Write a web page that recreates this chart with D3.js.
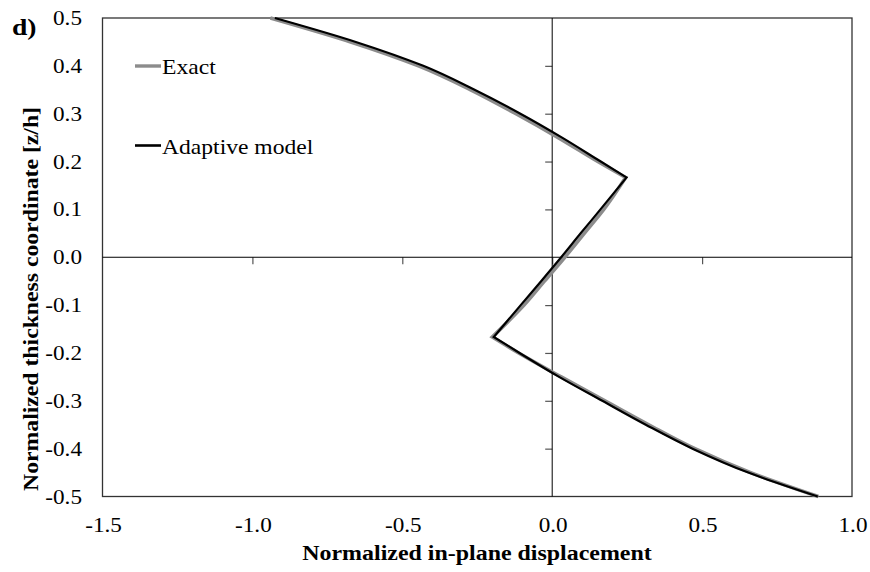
<!DOCTYPE html>
<html>
<head>
<meta charset="utf-8">
<script src="https://cdn.jsdelivr.net/npm/d3@7"></script>
<style>
  html, body { margin: 0; padding: 0; background: #fff; }
  svg { display: block; }
</style>
</head>
<body>
<svg id="chart" width="870" height="572"></svg>
<script>
// Normalized thickness coordinate z/h at which the profiles are sampled
const zValues = [0.5, 0.45, 0.4, 0.35, 0.3, 0.25, 0.2, 0.1667, 0.1, 0.05, 0, -0.05, -0.1, -0.1667, -0.2, -0.25, -0.3, -0.35, -0.4, -0.45, -0.5];
// Layer interfaces where the profile has a kink
const interfaces = [0.1667, -0.1667];
// Normalized in-plane displacement, exact solution
const exactU = [-0.94, -0.672, -0.446, -0.272, -0.121, 0.02, 0.152, 0.245, 0.172, 0.107, 0.042, -0.026, -0.094, -0.2, -0.112, 0.03, 0.176, 0.322, 0.476, 0.662, 0.888];
// Normalized in-plane displacement, adaptive model
const adaptiveU = [-0.925, -0.655, -0.43, -0.259, -0.106, 0.033, 0.162, 0.248, 0.161, 0.095, 0.03, -0.037, -0.105, -0.195, -0.109, 0.023, 0.167, 0.312, 0.468, 0.654, 0.886];

const xTicks = [-1.5, -1.0, -0.5, 0.0, 0.5, 1.0];
const yTicks = [0.5, 0.4, 0.3, 0.2, 0.1, 0.0, -0.1, -0.2, -0.3, -0.4, -0.5];

const seriesNames = ["Exact", "Adaptive model"];
const seriesColors = ["#8c8c8c", "#000000"];
const seriesWidths = [3.6, 2.2];

const FONT = "'Times New Roman', 'Liberation Serif', Times, 'DejaVu Serif', serif";
// Glyphs are set slightly wide along the reading direction
const WIDE = 1.16;

const svg = d3.select("#chart");
const plot = { left: 102.5, right: 852, top: 18, bottom: 496.5 };

const x = d3.scaleLinear().domain([-1.5, 1.0]).range([plot.left, plot.right]);
const y = d3.scaleLinear().domain([-0.5, 0.5]).range([plot.bottom, plot.top]);

// Plot-area frame
svg.append("rect")
  .attr("x", plot.left).attr("y", plot.top)
  .attr("width", plot.right - plot.left).attr("height", plot.bottom - plot.top)
  .attr("fill", "none").attr("stroke", "#333").attr("stroke-width", 1.3);

// Horizontal axis through z = 0, ticks pointing down
const xAxis = d3.axisBottom(x).tickValues(xTicks.filter(v => v > -1.5 && v < 1.0))
  .tickSize(7).tickFormat("");
const gx = svg.append("g").attr("transform", `translate(0,${y(0)})`).call(xAxis);
gx.select(".domain").remove();
gx.append("line").attr("x1", plot.left).attr("x2", plot.right)
  .attr("stroke", "#000").attr("stroke-width", 1);
gx.selectAll(".tick line").attr("stroke", "#555").attr("stroke-width", 1.2);

// Vertical axis through u = 0, ticks pointing left
const yAxis = d3.axisLeft(y).tickValues(yTicks.filter(v => v > -0.5 && v < 0.5 && v !== 0))
  .tickSize(7).tickFormat("");
const gy = svg.append("g").attr("transform", `translate(${x(0)},0)`).call(yAxis);
gy.select(".domain").remove();
gy.append("line").attr("y1", plot.top).attr("y2", plot.bottom)
  .attr("stroke", "#000").attr("stroke-width", 1);
gy.selectAll(".tick line").attr("stroke", "#555").attr("stroke-width", 1.2);

const fmt = d => d3.format(".1f")(d).replace("\u2212", "-");

// Tick labels along the outer frame
svg.append("g").selectAll("text").data(xTicks).join("text")
  .attr("transform", d => `translate(${x(d) + 1},532) scale(${WIDE},1)`)
  .attr("text-anchor", "middle").attr("font-size", 20).attr("font-family", FONT)
  .text(fmt);

svg.append("g").selectAll("text").data(yTicks).join("text")
  .attr("transform", d => `translate(82,${y(d) + 7}) scale(${WIDE},1)`)
  .attr("text-anchor", "end").attr("font-size", 20).attr("font-family", FONT)
  .text(fmt);

// Axis titles
svg.append("text")
  .attr("transform", `translate(477,560) scale(1.14,1)`)
  .attr("text-anchor", "middle").attr("font-size", 21).attr("font-weight", "bold")
  .attr("font-family", FONT)
  .text("Normalized in-plane displacement");

svg.append("text")
  .attr("transform", `translate(38,299) rotate(-90) scale(1.13,1)`)
  .attr("text-anchor", "middle").attr("font-size", 21).attr("font-weight", "bold")
  .attr("font-family", FONT)
  .text("Normalized thickness coordinate [z/h]");

// Panel label
svg.append("text")
  .attr("transform", `translate(12,35) scale(1.2,1)`)
  .attr("font-size", 23).attr("font-weight", "bold").attr("font-family", FONT)
  .text("d)");

// Profiles: smooth within each layer, sharp kinks at the interfaces
const line = d3.line()
  .x(d => x(d.u))
  .y(d => y(d.z))
  .curve(d3.curveMonotoneY);

function layerPieces(points) {
  const cuts = [0.5, ...interfaces, -0.5];
  const pieces = [];
  for (let i = 0; i < cuts.length - 1; i++) {
    pieces.push(points.filter(p => p.z <= cuts[i] + 1e-9 && p.z >= cuts[i + 1] - 1e-9));
  }
  return pieces;
}

function piecewisePath(points) {
  return layerPieces(points).map((seg, i) => {
    const d = line(seg);
    return i === 0 ? d : "L" + d.slice(1);
  }).join("");
}

const series = [exactU, adaptiveU].map((vals, i) => ({
  name: seriesNames[i],
  color: seriesColors[i],
  width: seriesWidths[i],
  points: zValues.map((z, k) => ({ z, u: vals[k] }))
}));

svg.append("g").selectAll("path").data(series).join("path")
  .attr("d", d => piecewisePath(d.points))
  .attr("fill", "none")
  .attr("stroke", d => d.color)
  .attr("stroke-width", d => d.width)
  .attr("stroke-linejoin", "miter");

// Legend
const legendY = [66, 145.5];
const legend = svg.append("g").selectAll("g").data(series).join("g")
  .attr("transform", (d, i) => `translate(135,${legendY[i]})`);
legend.append("line")
  .attr("x1", 0).attr("x2", 26)
  .attr("stroke", d => d.color).attr("stroke-width", (d, i) => i === 1 ? 2.6 : 3.4);
legend.append("text")
  .attr("transform", `translate(27,8) scale(1.18,1)`)
  .attr("font-size", 20).attr("font-family", FONT)
  .text(d => d.name);
</script>
</body>
</html>
